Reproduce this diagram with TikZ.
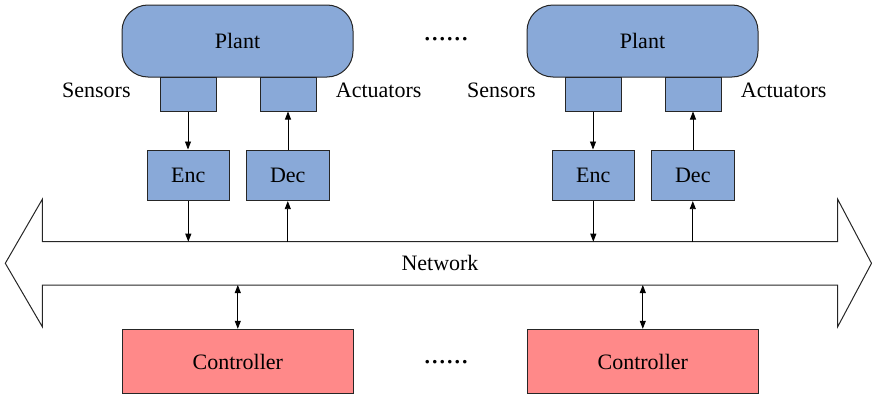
\documentclass[tikz,border=0pt]{standalone}
\usepackage{fontspec}
\setmainfont{Liberation Serif}
\usetikzlibrary{arrows.meta}
\definecolor{plantblue}{RGB}{137,169,216}
\definecolor{ctrlred}{RGB}{255,137,137}
\begin{document}
\begin{tikzpicture}[x=0.5pt,y=-0.5pt,font=\fontsize{11}{13}\selectfont,
    >={Triangle[length=4pt,width=3pt]}]
  \tikzstyle{blk}=[draw=black!85,line width=0.5pt,fill=plantblue,inner sep=0pt]
  \tikzstyle{plant}=[blk,rounded corners=13pt,minimum width=115.5pt,minimum height=36pt]
  \tikzstyle{port}=[blk,minimum width=28pt,minimum height=17pt]
  \tikzstyle{codec}=[blk,minimum width=41.25pt,minimum height=25.3pt]
  \tikzstyle{ctrl}=[blk,fill=ctrlred,minimum width=115.75pt,minimum height=32.2pt]
  \tikzstyle{lbl}=[inner sep=0pt]
  \tikzstyle{dots}=[inner sep=0pt,font=\fontsize{15}{15}\selectfont]
  \useasboundingbox (0,0) rectangle (872,396);
  % network
  \coordinate (nettop) at (440,241.7);
  \coordinate (netbot) at (440,285);
  \draw[black!85,line width=0.5pt] (5.3,263.3) -- (42.3,199.3) -- (42.3,241.7)
    -- (837.7,241.7) -- (837.7,199.3) -- (871.5,263.3) -- (837.7,326.7)
    -- (837.7,285) -- (42.3,285) -- (42.3,326.7) -- cycle;
  \node[lbl] (net) at (440,263) {Network};
  % plants, coders and controllers
  \foreach \i/\dx in {1/0,2/405}{
    \node[plant] (plant\i) at (237.5+\dx,41) {Plant};
    \node[port] (sens\i) at (188+\dx,94) {};
    \node[port] (act\i) at (288+\dx,94) {};
    \node[lbl,anchor=east] (slbl\i) at (131+\dx,90.5) {Sensors};
    \node[lbl,anchor=west] (albl\i) at (335.5+\dx,90.5) {Actuators};
    \node[codec] (enc\i) at (188.3+\dx,175.3) {Enc};
    \node[codec] (dec\i) at (287.8+\dx,175.3) {Dec};
    \node[ctrl] (ctrl\i) at (237.8+\dx,361.5) {Controller};
    \draw[->] (sens\i) -- (sens\i |- enc\i.north);
    \draw[->] (act\i |- dec\i.north) -- (act\i);
    \draw[->] (enc\i) -- (enc\i |- nettop);
    \draw[->] (dec\i |- nettop) -- (dec\i);
    \draw[<->] (ctrl\i |- netbot) -- (ctrl\i);
  }
  \node[dots] (dtop) at (446,39) {......};
  \node[dots] (dbot) at (446,362) {......};
\end{tikzpicture}
\end{document}
